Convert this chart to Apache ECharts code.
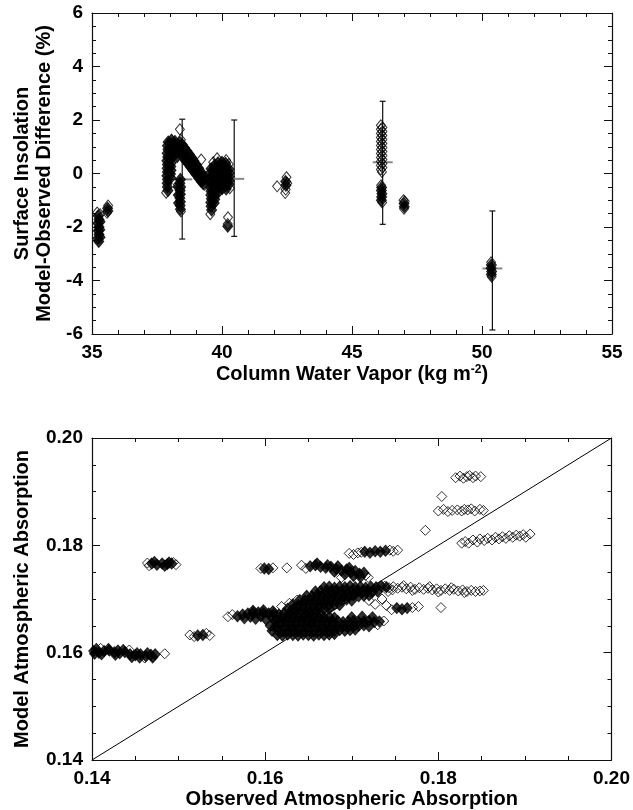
<!DOCTYPE html>
<html lang="en">
<head>
<meta charset="utf-8">
<style>
  html, body { margin: 0; padding: 0; background: #fff; }
  #container { width: 633px; height: 810px; }
</style>
</head>
<body>
<div id="container"></div>
<script type="text/javascript" src="https://fastly.jsdelivr.net/npm/echarts@6.0.0/dist/echarts.min.js"></script>
<script type="text/javascript">
// ---- top panel: surface insolation difference vs column water vapor ----
// dense parts of the clusters (drawn as filled diamonds)
const vaporSolid = [
  [35.24,-1.58],[35.27,-1.72],[35.23,-1.86],[35.27,-2.0],[35.24,-2.14],[35.27,-2.28],[35.23,-2.42],[35.26,-2.54],[35.31,-1.8],[35.3,-2.1],[35.31,-2.38],
  [35.6,-1.3],[35.61,-1.4],
  [37.93,1.18],[37.9,1.04],[37.92,0.9],[37.89,0.76],[37.91,0.62],[37.88,0.48],[37.9,0.34],[37.89,0.2],[37.9,0.06],[37.88,-0.08],[37.9,-0.22],[37.89,-0.36],[37.9,-0.5],[37.92,-0.64],
  [38.06,1.25],[38.05,1.1],[38.07,0.96],[38.04,0.82],[38.06,0.68],[38.03,0.54],[38.05,0.4],[38.03,0.26],[38.04,0.12],[38.02,-0.02],[38.03,-0.16],
  [38.19,1.2],[38.2,1.06],[38.22,0.92],[38.25,0.78],[38.28,0.64],[38.34,0.88],[38.36,1.02],[38.38,1.16],
  [38.4,-0.22],[38.38,-0.36],[38.41,-0.5],[38.39,-0.64],[38.4,-0.78],[38.38,-0.92],[38.4,-1.06],[38.39,-1.2],[38.4,-1.34],[38.31,-0.5],[38.32,-0.8],[38.33,-1.1],
  [38.47,1.08],[38.56,0.96],[38.65,0.84],[38.74,0.72],[38.83,0.6],[38.92,0.47],[39.01,0.34],[39.1,0.2],[39.19,0.06],[39.27,-0.08],[39.33,-0.2],
  [38.46,0.86],[38.55,0.74],[38.64,0.62],[38.73,0.5],[38.82,0.38],[38.91,0.26],[39.0,0.13],[39.09,0.0],[39.18,-0.13],[39.26,-0.26],
  [38.5,0.62],[38.6,0.48],[38.7,0.36],[38.8,0.22],[38.9,0.1],[39.0,-0.04],[39.1,-0.17],[39.2,-0.3],[39.28,-0.38],
  [39.58,0.18],[39.57,0.04],[39.59,-0.1],[39.57,-0.24],[39.58,-0.38],[39.56,-0.52],[39.58,-0.66],[39.57,-0.8],[39.59,-0.94],[39.57,-1.08],[39.58,-1.22],[39.6,-1.36],
  [39.71,0.3],[39.72,0.16],[39.7,0.02],[39.72,-0.12],[39.71,-0.26],[39.7,-0.4],[39.72,-0.54],[39.71,-0.68],[39.7,-0.82],[39.72,-0.96],[39.7,-1.1],
  [39.85,0.4],[39.86,0.26],[39.84,0.12],[39.86,-0.02],[39.85,-0.16],[39.84,-0.3],[39.86,-0.44],[39.85,-0.58],[39.84,-0.72],
  [40.0,0.42],[39.99,0.28],[40.01,0.14],[40.0,0.0],[39.99,-0.14],[40.01,-0.28],[40.0,-0.42],[40.01,-0.56],
  [40.14,0.38],[40.15,0.24],[40.13,0.1],[40.15,-0.04],[40.14,-0.18],[40.15,-0.32],[40.14,-0.46],[40.16,-0.58],
  [40.27,0.16],[40.28,0.02],[40.27,-0.12],[40.28,-0.26],[40.27,-0.4],
  [40.22,-1.97],
  [42.45,-0.3],[42.46,-0.44],
  [46.14,-0.52],[46.13,-0.64],[46.15,-0.76],[46.14,-0.88],[46.13,-1.0],
  [47.0,-1.12],[47.01,-1.24],
  [50.36,-3.42],[50.35,-3.54],[50.37,-3.66],[50.36,-3.78]
];
// single / sparse points (open diamonds)
const vaporOpen = [
  [35.2,-1.46],[35.31,-1.52],[35.62,-1.2],[35.58,-1.47],
  [38.38,1.65],[38.42,1.26],[39.2,0.52],[38.3,-0.42],[37.85,-0.72],[38.42,-1.42],[39.33,-0.42],
  [39.81,0.57],[40.16,0.5],[39.55,-1.52],[40.23,-1.64],[40.22,-1.89],[40.3,-0.55],[40.26,0.35],[39.66,0.42],
  [42.48,-0.14],[42.45,-0.6],[42.43,-0.73],[42.12,-0.48],[42.51,-0.36],
  [46.11,1.8],[46.17,1.72],[46.11,1.65],[46.17,1.57],[46.11,1.5],[46.17,1.42],[46.11,1.35],[46.17,1.27],
  [46.11,1.2],[46.17,1.12],[46.11,1.05],[46.17,0.97],[46.11,0.9],[46.17,0.82],[46.11,0.75],[46.17,0.67],
  [46.11,0.6],[46.17,0.52],[46.11,0.45],[46.17,0.37],[46.11,0.3],[46.17,0.22],[46.11,0.15],[46.15,0.06],
  [46.12,-0.44],[46.16,-1.08],
  [46.98,-1.0],[47.03,-1.04],[47.0,-1.32],
  [50.35,-3.32],[50.37,-3.86]
];
// error bars: [x, low, high, mean]
const vaporErrors = [
  [38.47, -2.45, 2.03, -0.22],
  [40.47, -2.35, 2.0, -0.2],
  [46.18, -1.9, 2.7, 0.42],
  [50.4, -5.85, -1.4, -3.55]
];

// ---- bottom panel: model vs observed atmospheric absorption ----
const absSolid = [
  [0.1402,0.1603],[0.1408,0.1600],[0.1414,0.1603],[0.1420,0.1604],[0.1426,0.1601],[0.1432,0.1599],[0.1438,0.1601],[0.1444,0.1597],
  [0.1450,0.1595],[0.1456,0.1597],[0.1462,0.1594],[0.1468,0.1596],[0.1473,0.1597],[0.1405,0.1607],[0.1430,0.1604],[0.1452,0.1599],
  [0.1403,0.1598],[0.1411,0.1597],[0.1419,0.1607],[0.1427,0.1596],[0.1436,0.1605],[0.1446,0.1592],[0.1455,0.1591],[0.1464,0.1599],[0.1470,0.1591],
  [0.1469,0.1766],[0.1475,0.1764],[0.1481,0.1766],[0.1487,0.1765],[0.1492,0.1766],[0.1472,0.1769],[0.1484,0.1762],[0.1489,0.1768],
  [0.1522,0.1632],[0.1528,0.1633],
  [0.1599,0.1757],[0.1604,0.1756],
  [0.1652,0.1761],[0.1658,0.1763],[0.1664,0.1760],[0.1670,0.1758],[0.1676,0.1760],[0.1682,0.1756],[0.1688,0.1753],[0.1694,0.1755],
  [0.1699,0.1750],[0.1704,0.1752],[0.1709,0.1747],[0.1714,0.1749],[0.1692,0.1746],[0.1702,0.1743],[0.1710,0.1741],
  [0.1660,0.1766],[0.1672,0.1763],[0.1684,0.1761],[0.1680,0.1751],[0.1697,0.1758],
  [0.1715,0.1788],[0.1721,0.1786],[0.1727,0.1789],[0.1733,0.1788],[0.1739,0.1790],
  [0.1568,0.1668],[0.1574,0.1671],[0.1580,0.1673],[0.1586,0.1674],[0.1592,0.1675],[0.1598,0.1674],[0.1604,0.1673],[0.1610,0.1672],
  [0.1616,0.1671],[0.1583,0.1667],[0.1595,0.1668],[0.1607,0.1667],
  [0.1576,0.1664],[0.1589,0.1663],[0.1601,0.1662],[0.1613,0.1662],[0.1586,0.1678],[0.1598,0.1679],[0.1609,0.1677],
  [0.1668,0.1722],[0.1674,0.1723],[0.1680,0.1721],[0.1686,0.1723],[0.1692,0.1722],[0.1698,0.1724],[0.1704,0.1722],[0.1710,0.1723],
  [0.1716,0.1721],[0.1722,0.1723],[0.1728,0.1722],[0.1734,0.1724],[0.1740,0.1722],
  [0.1658,0.1714],[0.1664,0.1715],[0.1670,0.1713],[0.1676,0.1714],[0.1682,0.1715],[0.1688,0.1713],[0.1694,0.1714],[0.1700,0.1715],
  [0.1706,0.1713],[0.1712,0.1714],[0.1718,0.1715],[0.1724,0.1713],[0.1730,0.1714],
  [0.1648,0.1706],[0.1654,0.1705],[0.1660,0.1707],[0.1666,0.1706],[0.1672,0.1705],[0.1678,0.1707],[0.1684,0.1706],[0.1690,0.1705],
  [0.1696,0.1706],[0.1702,0.1707],[0.1708,0.1705],[0.1714,0.1706],[0.1720,0.1707],
  [0.1640,0.1698],[0.1646,0.1697],[0.1652,0.1699],[0.1658,0.1698],[0.1664,0.1697],[0.1670,0.1698],[0.1676,0.1699],[0.1682,0.1697],
  [0.1688,0.1698],[0.1694,0.1699],[0.1700,0.1697],
  [0.1632,0.1690],[0.1638,0.1689],[0.1644,0.1691],[0.1650,0.1690],[0.1656,0.1689],[0.1662,0.1690],[0.1668,0.1691],[0.1674,0.1689],
  [0.1680,0.1690],[0.1686,0.1689],
  [0.1626,0.1682],[0.1632,0.1681],[0.1638,0.1683],[0.1644,0.1682],[0.1650,0.1681],[0.1656,0.1682],[0.1662,0.1683],[0.1668,0.1681],[0.1674,0.1682],
  [0.1622,0.1674],[0.1628,0.1673],[0.1634,0.1675],[0.1640,0.1674],[0.1646,0.1673],[0.1652,0.1674],[0.1658,0.1675],[0.1664,0.1673],
  [0.1620,0.1666],[0.1626,0.1665],[0.1632,0.1667],[0.1638,0.1666],[0.1644,0.1665],[0.1650,0.1666],[0.1656,0.1667],[0.1662,0.1665],
  [0.1668,0.1666],[0.1674,0.1667],[0.1680,0.1665],[0.1700,0.1666],[0.1712,0.1667],[0.1724,0.1666],
  [0.1612,0.1658],[0.1618,0.1657],[0.1624,0.1659],[0.1630,0.1658],[0.1636,0.1657],[0.1642,0.1658],[0.1648,0.1659],[0.1654,0.1657],
  [0.1660,0.1658],[0.1666,0.1659],[0.1672,0.1657],[0.1678,0.1658],[0.1684,0.1659],[0.1690,0.1657],[0.1696,0.1658],[0.1702,0.1659],
  [0.1708,0.1657],[0.1714,0.1658],[0.1720,0.1659],[0.1726,0.1657],[0.1732,0.1658],
  [0.1606,0.1650],[0.1612,0.1649],[0.1618,0.1651],[0.1624,0.1650],[0.1630,0.1649],[0.1636,0.1650],[0.1642,0.1651],[0.1648,0.1649],
  [0.1654,0.1650],[0.1660,0.1651],[0.1666,0.1649],[0.1672,0.1650],[0.1678,0.1651],[0.1684,0.1649],[0.1690,0.1650],[0.1696,0.1651],
  [0.1702,0.1649],[0.1708,0.1650],[0.1714,0.1651],[0.1720,0.1649],
  [0.1608,0.1641],[0.1614,0.1642],[0.1620,0.1640],[0.1626,0.1641],[0.1632,0.1642],[0.1638,0.1640],[0.1644,0.1641],[0.1650,0.1642],
  [0.1656,0.1640],[0.1662,0.1641],[0.1668,0.1642],[0.1674,0.1640],[0.1680,0.1641],[0.1686,0.1642],[0.1692,0.1641],[0.1698,0.1642],[0.1704,0.1643],
  [0.1614,0.1633],[0.1620,0.1632],[0.1626,0.1634],[0.1632,0.1633],[0.1638,0.1632],[0.1644,0.1634],[0.1650,0.1633],[0.1656,0.1632],
  [0.1662,0.1634],[0.1668,0.1633],[0.1674,0.1634],[0.1680,0.1635],
  [0.1752,0.1683],[0.1758,0.1681],[0.1764,0.1683]
];
const absOpen = [
  [0.1410,0.1608],[0.1443,0.1605],[0.1484,0.1598],[0.1470,0.1592],[0.1461,0.1590],
  [0.1464,0.1767],[0.1466,0.1762],[0.1497,0.1764],[0.1494,0.1768],
  [0.1513,0.1633],[0.1518,0.1630],[0.1536,0.1632],[0.1532,0.1636],
  [0.1595,0.1757],[0.1609,0.1758],[0.1625,0.1758],
  [0.1642,0.1763],[0.1647,0.1757],[0.1716,0.1744],[0.1719,0.1740],[0.1688,0.1740],
  [0.1697,0.1785],[0.1702,0.1783],[0.1707,0.1786],[0.1711,0.1787],[0.1744,0.1791],[0.1748,0.1789],[0.1753,0.1791],
  [0.1557,0.1667],[0.1562,0.1671],[0.1619,0.1686],[0.1628,0.1692],[0.1637,0.1698],[0.1735,0.1700],[0.1720,0.1697],
  [0.1727,0.1690],[0.1742,0.1714],[0.1747,0.1717],[0.1737,0.1659],[0.1730,0.1652],
  [0.1738,0.1724],[0.1743,0.1721],[0.1748,0.1723],[0.1753,0.1720],[0.1758,0.1722],[0.1763,0.1719],[0.1768,0.1722],[0.1773,0.1718],
  [0.1778,0.1721],[0.1783,0.1718],[0.1788,0.1720],[0.1793,0.1717],[0.1798,0.1719],[0.1803,0.1716],[0.1808,0.1719],[0.1813,0.1716],
  [0.1818,0.1718],[0.1823,0.1715],[0.1828,0.1717],[0.1833,0.1714],[0.1838,0.1716],[0.1843,0.1714],[0.1848,0.1715],[0.1852,0.1716],
  [0.1760,0.1725],[0.1790,0.1723],[0.1815,0.1721],[0.1770,0.1716],[0.1800,0.1713],[0.1830,0.1712],
  [0.1740,0.1688],[0.1746,0.1680],[0.1770,0.1684],[0.1777,0.1686],
  [0.1803,0.1684],
  [0.1820,0.1926],[0.1825,0.1929],[0.1829,0.1925],[0.1833,0.1928],[0.1836,0.1930],[0.1840,0.1926],[0.1843,0.1929],[0.1849,0.1928],
  [0.1804,0.1891],
  [0.1800,0.1864],[0.1806,0.1867],[0.1811,0.1863],[0.1816,0.1865],[0.1822,0.1866],[0.1827,0.1864],[0.1830,0.1867],[0.1834,0.1866],
  [0.1838,0.1868],[0.1842,0.1864],[0.1848,0.1867],[0.1852,0.1865],
  [0.1785,0.1828],
  [0.1827,0.1804],[0.1831,0.1807],[0.1835,0.1804],[0.1840,0.1810],[0.1845,0.1806],[0.1848,0.1812],[0.1853,0.1809],[0.1857,0.1813],
  [0.1862,0.1810],[0.1866,0.1815],[0.1870,0.1812],[0.1874,0.1816],[0.1878,0.1813],[0.1882,0.1818],[0.1886,0.1815],[0.1890,0.1819],
  [0.1894,0.1817],[0.1898,0.1820],[0.1901,0.1815],[0.1906,0.1821]
];
const oneToOne = [[0.14, 0.14], [0.20, 0.20]];

const FONT = "'Liberation Sans', Arial, Helvetica, sans-serif";
const labelStyle = { color: '#000', fontFamily: FONT, fontWeight: 'bold', fontSize: 19 };
const nameStyle = { color: '#000', fontFamily: FONT, fontWeight: 'bold', fontSize: 20 };

function frameAxis(gridIndex, position, min, max, interval, minorSplit, showLabel, fmt) {
  return {
    type: 'value', gridIndex: gridIndex, position: position,
    min: min, max: max, interval: interval,
    axisLine: { show: true, onZero: false, lineStyle: { color: '#111', width: 1.2 } },
    axisTick: { show: true, inside: true, length: 8, lineStyle: { color: '#111', width: 1 } },
    minorTick: { show: true, splitNumber: minorSplit, length: 4, lineStyle: { color: '#111', width: 1 } },
    splitLine: { show: false },
    axisLabel: Object.assign({ show: showLabel, margin: 9, formatter: fmt }, labelStyle)
  };
}

const dom = document.getElementById('container');
const myChart = echarts.init(dom, null, { renderer: 'canvas' });

const xTop = frameAxis(0, 'bottom', 35, 55, 5, 5, true, function (v) { return String(v); });
xTop.name = 'Column Water Vapor (kg m{sup|-2})';
xTop.nameLocation = 'middle';
xTop.nameGap = 30;
xTop.nameTextStyle = Object.assign({ rich: { sup: { fontFamily: FONT, fontWeight: 'bold', fontSize: 12, verticalAlign: 'top', color: '#000' } } }, nameStyle);

const yTop = frameAxis(0, 'left', -6, 6, 2, 4, true, function (v) { return String(v); });
yTop.name = 'Surface Insolation\nModel-Observed Difference (%)';
yTop.nameLocation = 'middle';
yTop.nameGap = 35;
yTop.nameTextStyle = Object.assign({ lineHeight: 22 }, nameStyle);

const fmt2 = function (v) { return v.toFixed(2); };
const xBot = frameAxis(1, 'bottom', 0.14, 0.20, 0.02, 4, true, fmt2);
xBot.name = 'Observed Atmospheric Absorption';
xBot.nameLocation = 'middle';
xBot.nameGap = 29;
xBot.nameTextStyle = nameStyle;

const yBot = frameAxis(1, 'left', 0.14, 0.20, 0.02, 4, true, fmt2);
yBot.name = 'Model Atmospheric Absorption';
yBot.nameLocation = 'middle';
yBot.nameGap = 60;
yBot.nameTextStyle = nameStyle;

const openMark = { color: 'rgba(0,0,0,0)', borderColor: '#000', borderWidth: 1 };
const solidMark = { color: '#000', borderColor: '#000', borderWidth: 1 };

const option = {
  backgroundColor: '#fff',
  animation: false,
  grid: [
    { left: 92, top: 13, width: 520, height: 321 },
    { left: 92, top: 438, width: 520, height: 323 }
  ],
  xAxis: [
    xTop,
    frameAxis(0, 'top', 35, 55, 5, 5, false),
    xBot,
    frameAxis(1, 'top', 0.14, 0.20, 0.02, 4, false)
  ],
  yAxis: [
    yTop,
    frameAxis(0, 'right', -6, 6, 2, 4, false),
    yBot,
    frameAxis(1, 'right', 0.14, 0.20, 0.02, 4, false)
  ],
  series: [
    {
      type: 'scatter', xAxisIndex: 0, yAxisIndex: 0,
      symbol: 'diamond', symbolSize: [9, 11],
      itemStyle: openMark, data: vaporOpen, silent: true
    },
    {
      type: 'scatter', xAxisIndex: 0, yAxisIndex: 0,
      symbol: 'diamond', symbolSize: [10, 12],
      itemStyle: solidMark, data: vaporSolid, silent: true
    },
    {
      type: 'custom', xAxisIndex: 0, yAxisIndex: 0,
      encode: { x: 0, y: [1, 2, 3] },
      data: vaporErrors, silent: true,
      renderItem: function (params, api) {
        const x = api.value(0);
        const lo = api.coord([x, api.value(1)]);
        const hi = api.coord([x, api.value(2)]);
        const mid = api.coord([x, api.value(3)]);
        const cap = 3, half = 10;
        const line = function (x1, y1, x2, y2, color, w) {
          return { type: 'line', shape: { x1: x1, y1: y1, x2: x2, y2: y2 }, style: { stroke: color, lineWidth: w } };
        };
        return {
          type: 'group',
          children: [
            line(lo[0], lo[1], hi[0], hi[1], '#111', 1.2),
            line(lo[0] - cap, lo[1], lo[0] + cap, lo[1], '#111', 1.2),
            line(hi[0] - cap, hi[1], hi[0] + cap, hi[1], '#111', 1.2),
            line(mid[0] - half, mid[1], mid[0] + half, mid[1], '#888', 2)
          ]
        };
      }
    },
    {
      type: 'line', xAxisIndex: 2, yAxisIndex: 2,
      data: oneToOne, symbol: 'none', silent: true,
      lineStyle: { color: '#000', width: 1 }
    },
    {
      type: 'scatter', xAxisIndex: 2, yAxisIndex: 2,
      symbol: 'diamond', symbolSize: [10, 10],
      itemStyle: openMark, data: absOpen, silent: true
    },
    {
      type: 'scatter', xAxisIndex: 2, yAxisIndex: 2,
      symbol: 'diamond', symbolSize: [10, 11],
      itemStyle: solidMark, data: absSolid, silent: true
    }
  ]
};

myChart.setOption(option);
window.addEventListener('resize', myChart.resize);
</script>
</body>
</html>
